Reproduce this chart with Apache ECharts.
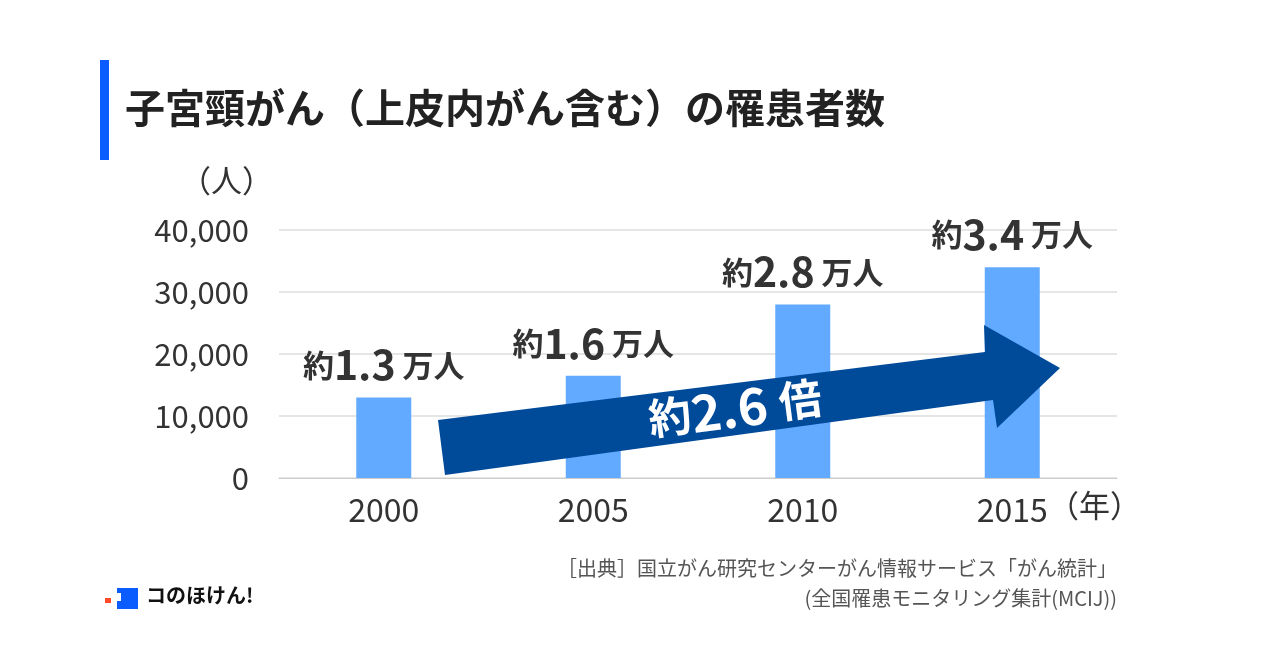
<!DOCTYPE html>
<html><head><meta charset="utf-8">
<script src="https://cdn.jsdelivr.net/npm/echarts@6/dist/echarts.min.js"></script>
<style>html,body{margin:0;padding:0;background:#fff}#c{width:1280px;height:671px}</style>
</head><body><div id="c"></div>
<script>
const categories = ['2000','2005','2010','2015'];
const values = [13000, 16500, 28000, 34000];
const labelNums = ['1.3','1.6','2.8','3.4'];
const yTicks = [0,10000,20000,30000,40000];
const F = '"Noto Sans CJK JP","Noto Sans",sans-serif';
const chart = echarts.init(document.getElementById('c'));
chart.setOption({
  animation:false,
  grid:{left:279,right:163,top:230,bottom:193},
  xAxis:{type:'category',data:categories,axisTick:{show:false},
    axisLine:{lineStyle:{color:'#ccc'}},
    axisLabel:{color:'#333',fontSize:32,fontFamily:F,margin:16}},
  yAxis:{type:'value',min:0,max:40000,interval:10000,
    axisLabel:{color:'#333',fontSize:31,fontFamily:F,margin:30,formatter:v=>v.toLocaleString('en-US')},
    splitLine:{lineStyle:{color:'#ddd',width:1.5}}},
  series:[{type:'bar',data:values,barWidth:55,itemStyle:{color:'#62aaff'},
    label:{show:true,position:'top',distance:12,fontFamily:F,
      formatter:p=>'{a|約}{b|'+labelNums[p.dataIndex]+'}{a| 万人}',
      rich:{a:{fontSize:31,fontWeight:'bold',color:'#333',fontFamily:F},
            b:{fontSize:41,fontWeight:'bold',color:'#333',fontFamily:F}}}}],
  graphic:[
    {type:'rect',shape:{x:100,y:60,width:9,height:100},style:{fill:'#0a5cff'}},
    {type:'text',left:125,top:88,style:{text:'子宮頸がん（上皮内がん含む）の罹患者数',fontSize:40,fontWeight:'bold',fill:'#222',fontFamily:F}},
    {type:'text',left:180,top:165,style:{text:'（人）',fontSize:31,fill:'#333',fontFamily:F}},
    {type:'text',left:1048,top:490,style:{text:'（年）',fontSize:31,fill:'#333',fontFamily:F}},
    {type:'polygon',shape:{points:[[445,475],[438,420],[985,352],[984,325],[1060,368],[997,428],[993,400]]},style:{fill:'#004a9a'},z:10},
    {type:'text',x:735,y:408,rotation:7.5*Math.PI/180,z:11,
      style:{text:'{a|約}{b|2.6 }{a|倍}',align:'center',verticalAlign:'middle',
        rich:{a:{fontSize:43,fontWeight:'bold',fill:'#fff',fontFamily:F},b:{fontSize:51,fontWeight:'bold',fill:'#fff',fontFamily:F}}}},
    {type:'text',right:163,top:558,style:{text:'［出典］国立がん研究センターがん情報サービス「がん統計」',fontSize:20,fill:'#555',fontFamily:F}},
    {type:'text',right:163,top:588,style:{text:'(全国罹患モニタリング集計(MCIJ))',fontSize:20,fill:'#555',fontFamily:F}},
    {type:'rect',shape:{x:117,y:588,width:21,height:21},style:{fill:'#0a5cff'}},
    {type:'rect',shape:{x:105,y:598,width:6,height:5},style:{fill:'#ff4a2a'}},
    {type:'rect',shape:{x:113,y:593,width:8,height:8},style:{fill:'#fff'}},
    {type:'text',left:146,top:585,style:{text:'コのほけん!',fontSize:20,fontWeight:'bold',fill:'#111',fontFamily:F}}
  ]
});
</script></body></html>
